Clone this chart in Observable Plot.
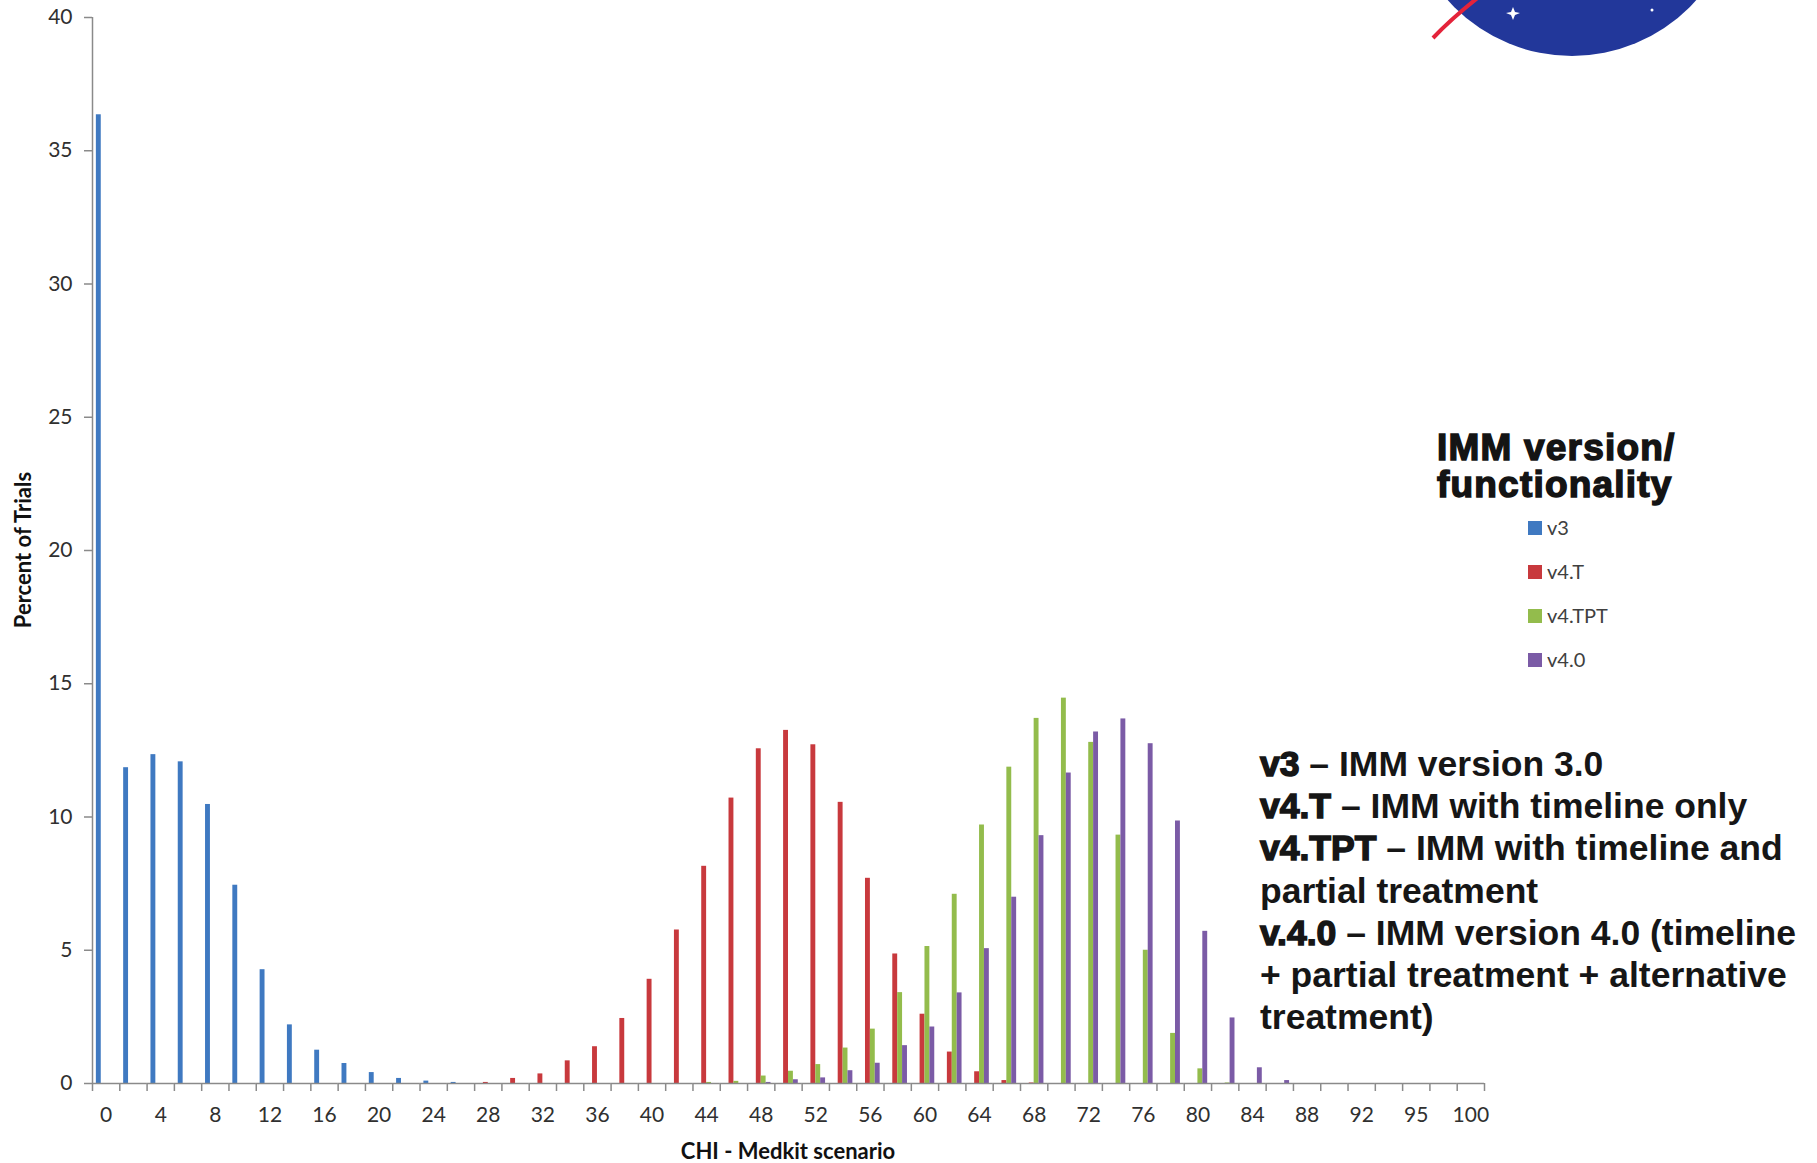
<!DOCTYPE html>
<html>
<head>
<meta charset="utf-8">
<script src="https://cdn.jsdelivr.net/npm/d3@7"></script>
<script src="https://cdn.jsdelivr.net/npm/@observablehq/plot@0.6"></script>
<style>
  html, body { margin: 0; padding: 0; background: #fff; }
  #wrap { position: relative; width: 1817px; height: 1163px; overflow: hidden; }
  #chart, #overlay { position: absolute; left: 0; top: 0; }
  #overlay { pointer-events: none; }
</style>
</head>
<body>
<div id="wrap">
  <div id="chart"></div>
  <svg id="overlay" width="1817" height="1163"></svg>
</div>
<script>
// ---- data ----
const categories = [0,2,4,6,8,10,12,14,16,18,20,22,24,26,28,30,32,34,36,38,40,42,44,46,48,50,52,54,56,58,60,62,64,66,68,70,72,74,76,78,80,82,84,86,88,90,92,94,96,98,100];
const seriesNames = ["v3", "v4.T", "v4.TPT", "v4.0"];
const seriesColors = ["#3f79c1", "#c8393d", "#93bc4c", "#7b5ba6"];
const v3 =     [36.35,11.85,12.34,12.07,10.47,7.44,4.27,2.2,1.25,0.75,0.41,0.19,0.09,0.04,0,0,0,0,0,0,0,0,0,0,0,0,0,0,0,0,0,0,0,0,0,0,0,0,0,0,0,0,0,0,0,0,0,0,0,0,0];
const v4T =    [0,0,0,0,0,0,0,0,0,0,0,0,0,0,0.04,0.19,0.36,0.85,1.38,2.44,3.91,5.76,8.15,10.71,12.56,13.25,12.71,10.55,7.7,4.86,2.6,1.18,0.44,0.11,0.02,0,0,0,0,0,0,0,0,0,0,0,0,0,0,0,0];
const v4TPT =  [0,0,0,0,0,0,0,0,0,0,0,0,0,0,0,0,0,0,0,0,0,0,0.04,0.08,0.28,0.46,0.71,1.33,2.04,3.41,5.14,7.1,9.7,11.87,13.7,14.46,12.8,9.32,5.0,1.88,0.55,0.02,0,0,0,0,0,0,0,0,0];
const v40 =    [0,0,0,0,0,0,0,0,0,0,0,0,0,0,0,0,0,0,0,0,0,0,0,0,0.04,0.14,0.21,0.48,0.76,1.42,2.12,3.4,5.06,6.99,9.3,11.65,13.19,13.68,12.75,9.85,5.71,2.46,0.59,0.11,0,0,0,0,0,0,0];
const seriesValues = [v3, v4T, v4TPT, v40];
const xTickValues = [0,4,8,12,16,20,24,28,32,36,40,44,48,52,56,60,64,68,72,76,80,84,88,92,96,100];
const xTickLabels = ["0","4","8","12","16","20","24","28","32","36","40","44","48","52","56","60","64","68","72","76","80","84","88","92","95","100"];
const yTicks = [0,5,10,15,20,25,30,35,40];
const yTitle = "Percent of Trials";
const xTitle = "CHI - Medkit scenario";
const legendTitle = ["IMM version/", "functionality"];
const notes = [
  ["v3", " – IMM version 3.0"],
  ["v4.T", " – IMM with timeline only"],
  ["v4.TPT", " – IMM with timeline and"],
  ["", "partial treatment"],
  ["v.4.0", " – IMM version 4.0 (timeline"],
  ["", "+ partial treatment + alternative"],
  ["", "treatment)"]
];

// ---- chart ----
const rows = categories.flatMap((c, i) =>
  seriesNames.map((s, k) => ({cat: c, series: s, value: seriesValues[k][i]})));

const W = 1817, H = 1163, mL = 92, mR = 333, mT = 17, mB = 80;
const step = (W - mL - mR) / categories.length;
const axisColor = "#8a8a8a";
const textColor = "#303030";

const chart = Plot.plot({
  width: W, height: H,
  marginLeft: mL, marginRight: mR, marginTop: mT, marginBottom: mB,
  style: {fontFamily: "Lato, 'Open Sans', sans-serif", fontSize: "21px", color: textColor, background: "transparent"},
  fx: {domain: categories, padding: 0, round: false, label: null},
  x: {domain: seriesNames, paddingInner: 0, paddingOuter: 0.79, round: false, axis: null},
  y: {domain: [0, 40], label: null},
  color: {domain: seriesNames, range: seriesColors},
  marks: [
    Plot.barY(rows, {fx: "cat", x: "series", y: "value", fill: "series"}),
    Plot.ruleY([0], {stroke: axisColor, strokeWidth: 1.5}),
    Plot.gridFx({ticks: [categories[0]], dx: -step / 2, stroke: axisColor, strokeOpacity: 1, strokeWidth: 1.5}),
    Plot.axisY({ticks: yTicks, tickSize: 8, tickPadding: 12, stroke: axisColor, strokeWidth: 1.5, fill: textColor, label: null}),
    Plot.axisFx({anchor: "bottom", ticks: xTickValues, tickFormat: d => xTickLabels[xTickValues.indexOf(d)], tickSize: 0, tickPadding: 24, fill: textColor, label: null}),
    Plot.axisFx({anchor: "bottom", tickSize: 8, tickFormat: () => "", dx: -step / 2, stroke: axisColor, strokeWidth: 1.5, label: null}),
    Plot.axisFx({anchor: "bottom", ticks: [categories[categories.length - 1]], tickSize: 8, tickFormat: () => "", dx: step / 2, stroke: axisColor, strokeWidth: 1.5, label: null})
  ]
});
document.getElementById("chart").appendChild(chart);

// ---- overlay: titles, legend, notes, logo ----
const ov = d3.select("#overlay");

// partial NASA logo (decoration)
ov.append("circle").attr("cx", 1572).attr("cy", -110).attr("r", 166).attr("fill", "#22379a");
ov.append("path").attr("d", "M1433,38 Q1452,18 1480,-4").attr("stroke", "#e4233a").attr("stroke-width", 4).attr("fill", "none");
ov.append("path").attr("d", "M1513,7 L1515,12 L1520,13 L1515,15 L1513,20 L1511,15 L1506,13 L1511,12 Z").attr("fill", "#fff");
ov.append("circle").attr("cx", 1652).attr("cy", 10).attr("r", 1.5).attr("fill", "#fff");

// axis titles
ov.append("text").text(yTitle)
  .attr("transform", "translate(31,550) rotate(-90)")
  .attr("text-anchor", "middle")
  .attr("font-family", "Lato, sans-serif").attr("font-weight", 700).attr("font-size", 22).attr("fill", "#111");
ov.append("text").text(xTitle)
  .attr("x", 788).attr("y", 1159)
  .attr("text-anchor", "middle")
  .attr("font-family", "Lato, sans-serif").attr("font-weight", 700).attr("font-size", 22).attr("fill", "#111");

// legend title
legendTitle.forEach((t, i) => {
  ov.append("text").text(t)
    .attr("x", 1437).attr("y", 460 + i * 37)
    .attr("font-family", "'Liberation Sans', Arial, sans-serif").attr("font-weight", 700)
    .attr("font-size", 37).attr("letter-spacing", 1.2)
    .attr("fill", "#141414").attr("stroke", "#141414").attr("stroke-width", 1.5);
});

// legend items
seriesNames.forEach((s, k) => {
  const cy = 528 + k * 44;
  ov.append("rect").attr("x", 1528).attr("y", cy - 7).attr("width", 14).attr("height", 14).attr("fill", seriesColors[k]);
  ov.append("text").text(s).attr("x", 1547).attr("y", cy + 7)
    .attr("font-family", "Lato, sans-serif").attr("font-size", 20).attr("fill", "#404040");
});

// notes
notes.forEach((n, i) => {
  const t = ov.append("text").attr("x", 1260).attr("y", 776 + i * 42.2)
    .attr("font-family", "'Liberation Sans', Arial, sans-serif").attr("font-weight", 700)
    .attr("font-size", 35.5).attr("fill", "#161616");
  if (n[0]) t.append("tspan").text(n[0]).attr("stroke", "#161616").attr("stroke-width", 1.5);
  t.append("tspan").text(n[1]);
});
</script>
</body>
</html>
